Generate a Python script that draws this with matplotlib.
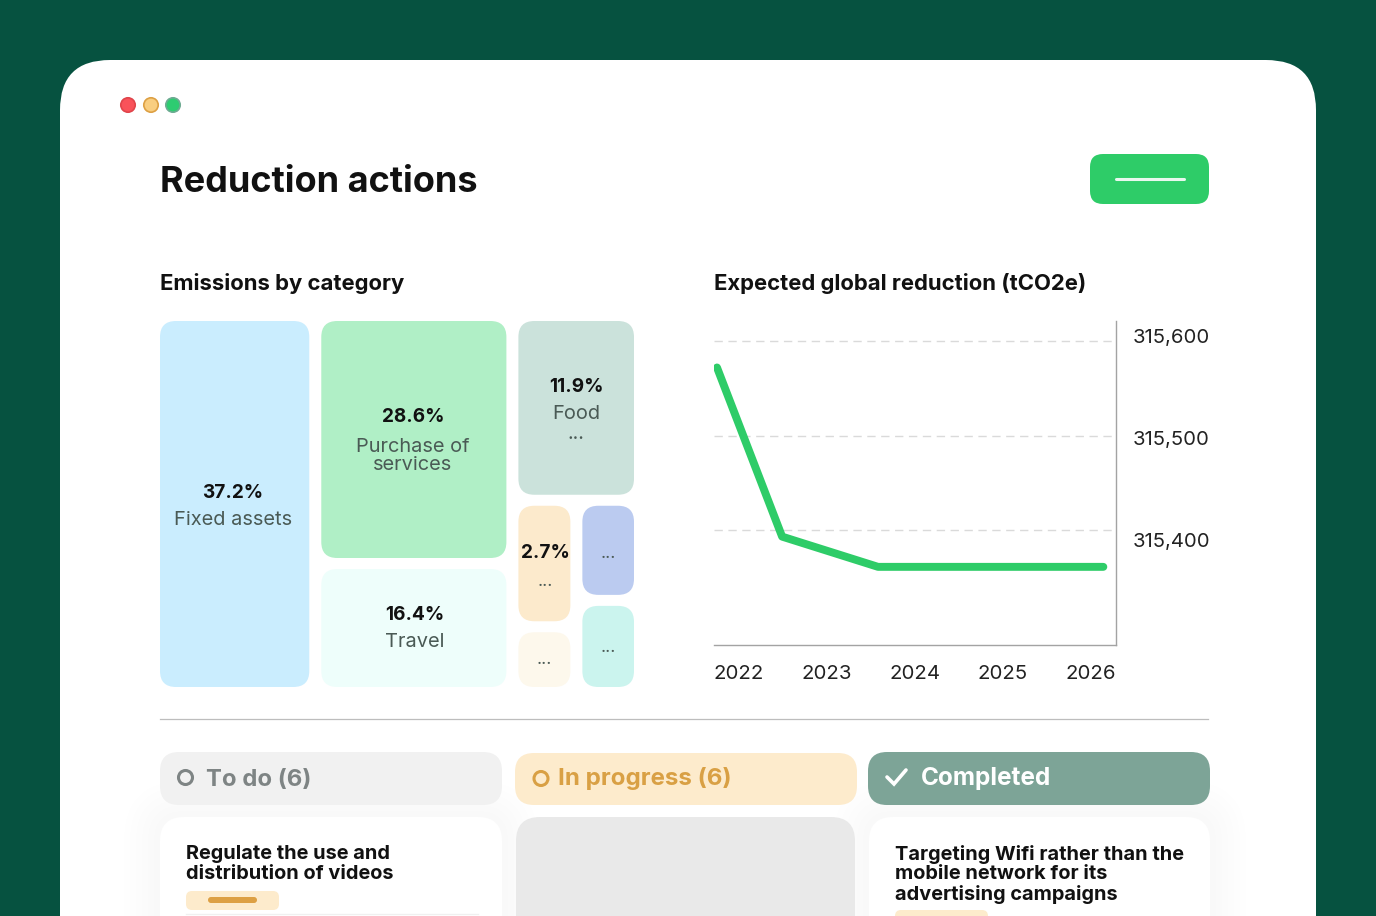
import matplotlib
matplotlib.use("Agg")
import matplotlib.pyplot as plt
from matplotlib.patches import FancyBboxPatch, Circle
from matplotlib.transforms import ScaledTranslation

plt.rcParams['font.family'] = ['Inter', 'DejaVu Sans']

########## data
page_title = "Reduction actions"
treemap_title = "Emissions by category"
line_title = "Expected global reduction (tCO2e)"

# tile weights, column by column
fixed_weight = [61074]
service_weights = [49104, 25542]
food_weight = [23680]
small_left_weights = [8128, 4224]
small_right_weights = [6400, 5888]

tile_pct = ["37.2%", "28.6%", "16.4%", "11.9%", "2.7%"]
tile_names = ["Fixed assets", "Purchase of\nservices", "Travel", "Food\n...", "..."]

years = [2022, 2023, 2024, 2025, 2026]
line_x = [2021.75, 2022.49, 2023.58, 2026.14]
line_y = [315572, 315393, 315361, 315361]
y_ticks = [315400, 315500, 315600]
y_labels = ["315,400", "315,500", "315,600"]

todo_label = "To do (6)"
progress_label = "In progress (6)"
done_label = "Completed"
todo_card = "Regulate the use and\ndistribution of videos"
done_card = "Targeting Wifi rather than the\nmobile network for its\nadvertising campaigns"

GREEN = "#2ECC68"
DARK = "#111111"
GREY_TEXT = "#4A5A55"


def box(ax, x0, y0, x1, y1, r, color, **kw):
    p = FancyBboxPatch((x0 + r, y0 + r), x1 - x0 - 2 * r, y1 - y0 - 2 * r,
                       boxstyle=f"round,pad={r},rounding_size={r}",
                       fc=color, ec="none", **kw)
    ax.add_patch(p)
    return p


def shadow(ax, x0, y0, x1, y1, r):
    # soft shadow around the lower cards
    for s in range(36, 0, -6):
        box(ax, x0 - s, y0 - s, x1 + s, y1 + s, r + s, "#000000", alpha=0.004)


def split_rows(x0, y0, x1, y1, weights):
    total = sum(weights)
    out = []
    y = y0
    for w in weights:
        h = (y1 - y0) * w / total
        out.append((x0, y, x1, y + h))
        y += h
    return out


def split_cols(x0, y0, x1, y1, weights):
    total = sum(weights)
    out = []
    x = x0
    for w in weights:
        t = (x1 - x0) * w / total
        out.append((x, y0, x + t, y1))
        x += t
    return out


fig = plt.figure(figsize=(13.76, 9.16), dpi=100, facecolor="#065240")
bg = fig.add_axes([0, 0, 1, 1])
bg.set_xlim(0, 1376)
bg.set_ylim(916, 0)
bg.axis("off")

# white window
box(bg, 60, 60, 1316, 1000, 50, "white")

# window dots
for cx, fc, ec in [(128, "#F9525A", "#E0454B"), (151, "#F9CE80", "#DDA044"), (173, "#2ECC71", "#6FAB93")]:
    bg.add_patch(Circle((cx, 105), 7.2, fc=fc, ec=ec, lw=1.2))

bg.text(160, 182, page_title, fontsize=26, fontweight="bold", color=DARK, va="center")
box(bg, 1090, 154, 1209, 204, 13, GREEN)
bg.plot([1116, 1184], [179, 179], color="#E8F8EE", lw=2.2, solid_capstyle="round")

bg.text(160, 283.5, treemap_title, fontsize=15.9, fontweight="bold", color=DARK, va="center")
bg.text(714, 283.5, line_title, fontsize=15.9, fontweight="bold", color=DARK, va="center")

########## treemap: slice the padded area by weight, then shrink each tile by the gap
pad_x, pad_y = 6, 5.5
columns = [sum(fixed_weight), sum(service_weights),
           sum(food_weight) + sum(small_left_weights) + sum(small_right_weights)]
col_rects = split_cols(160 - pad_x, 321 - pad_y, 634 + pad_x, 687 + pad_y, columns)
r_fixed = col_rects[0]
r_purchase, r_travel = split_rows(*col_rects[1], service_weights)
r_food, r_small = split_rows(*col_rects[2], [food_weight[0], sum(small_left_weights) + sum(small_right_weights)])
c_left, c_right = split_cols(*r_small, [sum(small_left_weights), sum(small_right_weights)])
r_orange, r_cream = split_rows(*c_left, small_left_weights)
r_blue, r_teal = split_rows(*c_right, small_right_weights)

tiles = [(r_fixed, "#CAEDFE"), (r_purchase, "#B0EFC6"), (r_travel, "#EEFEFB"), (r_food, "#CBE2DB"),
         (r_orange, "#FCEACC"), (r_cream, "#FDF8EC"), (r_blue, "#BBCBF0"), (r_teal, "#CBF4EE")]
for (x0, y0, x1, y1), col in tiles:
    box(bg, x0 + pad_x, y0 + pad_y, x1 - pad_x, y1 - pad_y, 16, col)

pct_size, name_size = 13.7, 14.4
bg.text(233, 492.5, tile_pct[0], fontsize=pct_size, fontweight="bold", color=DARK, ha="center", va="center")
bg.text(233, 520, tile_names[0], fontsize=name_size, color=GREY_TEXT, ha="center", va="center")
bg.text(413, 417.5, tile_pct[1], fontsize=pct_size, fontweight="bold", color=DARK, ha="center", va="center")
bg.text(413, 456, tile_names[1], fontsize=name_size, color=GREY_TEXT, ha="center", va="center", linespacing=1.04)
bg.text(415, 615, tile_pct[2], fontsize=pct_size, fontweight="bold", color=DARK, ha="center", va="center")
bg.text(415, 642, tile_names[2], fontsize=name_size, color=GREY_TEXT, ha="center", va="center")
bg.text(576, 386.5, tile_pct[3], fontsize=pct_size, fontweight="bold", color=DARK, ha="center", va="center")
bg.text(576, 424, tile_names[3], fontsize=name_size, color=GREY_TEXT, ha="center", va="center", linespacing=1.18)
bg.text(545, 553, tile_pct[4], fontsize=pct_size, fontweight="bold", color=DARK, ha="center", va="center")
for x, y in [(545, 582), (544, 660), (608, 554), (608, 648)]:
    bg.text(x, y, tile_names[4], fontsize=13, color=GREY_TEXT, ha="center", va="center")

# divider
bg.plot([160, 1208], [719, 719], color="#BDBDBD", lw=0.9)

########## status columns
shadow(bg, 160, 817, 502, 1000, 24)
shadow(bg, 869, 817, 1210, 1000, 24)

box(bg, 160, 752, 502, 805, 19, "#F1F1F1")
box(bg, 515, 753, 857, 805, 19, "#FDEBCC")
box(bg, 868, 752, 1210, 805, 19, "#7DA497")

bg.add_patch(Circle((185.5, 777.5), 7, fc="none", ec="#7E8484", lw=2.2))
bg.add_patch(Circle((541, 778.5), 7, fc="none", ec="#D9A044", lw=2.2))
bg.plot([887, 894, 906], [777, 784, 770], color="white", lw=2.6, solid_capstyle="round", solid_joinstyle="miter")

bg.text(206, 780, todo_label, fontsize=17.2, fontweight="bold", color="#7E8484", va="center")
bg.text(558, 779, progress_label, fontsize=17.4, fontweight="bold", color="#D9A044", va="center")
bg.text(921, 779, done_label, fontsize=17.5, fontweight="bold", color="white", va="center")

box(bg, 160, 817, 502, 1000, 24, "white")
box(bg, 516, 817, 855, 1000, 24, "#E9E9E9")
box(bg, 869, 817, 1210, 1000, 24, "white")

bg.text(186, 864, todo_card, fontsize=14.35, fontweight="bold", color=DARK, va="center", linespacing=1.1)
bg.text(895, 874.5, done_card, fontsize=14.35, fontweight="bold", color=DARK, va="center", linespacing=1.1)

box(bg, 186, 891, 279, 910, 6, "#FDEBCC")
box(bg, 208, 897, 257, 903, 3, "#DDA044")
box(bg, 895, 910, 988, 930, 6, "#FDEBCC")
bg.plot([186, 478], [913.5, 913.5], color="#F0F0F0", lw=1)

bg.set_ylim(916, 0)
bg.set_xlim(0, 1376)

########## line chart
ax = fig.add_axes([714 / 1376, 1 - 645 / 916, 402 / 1376, 324 / 916])
ax.patch.set_alpha(0)
ax.plot(line_x, line_y, color=GREEN, lw=5.7, solid_capstyle="round", solid_joinstyle="round", zorder=3)
ax.set_xlim(2021.716, 2026.284)
ax.set_ylim(315278.3, 315621.2)
for s in ["top", "left"]:
    ax.spines[s].set_visible(False)
for s in ["right", "bottom"]:
    ax.spines[s].set_color("#A3A3A3")
    ax.spines[s].set_linewidth(1)
ax.yaxis.tick_right()
ax.set_xticks(years)
ax.set_xticklabels([str(y) for y in years])
ax.set_yticks(y_ticks)
ax.set_yticklabels(y_labels)
ax.tick_params(axis="x", length=0, pad=14.5, labelsize=14.7, labelcolor="#222222")
ax.tick_params(axis="y", length=0, pad=12, labelsize=14.6, labelcolor="#222222")
ax.grid(axis="y", color="#DADADA", lw=1, ls=(0, (6, 4)))

# the value labels sit a little away from their gridlines in the reference
for lab, dy in zip(ax.get_yticklabels(), [-10, -2, 5]):
    lab.set_transform(lab.get_transform() + ScaledTranslation(0, dy / 100, fig.dpi_scale_trans))

fig.savefig("out.png", dpi=100, facecolor=fig.get_facecolor())
